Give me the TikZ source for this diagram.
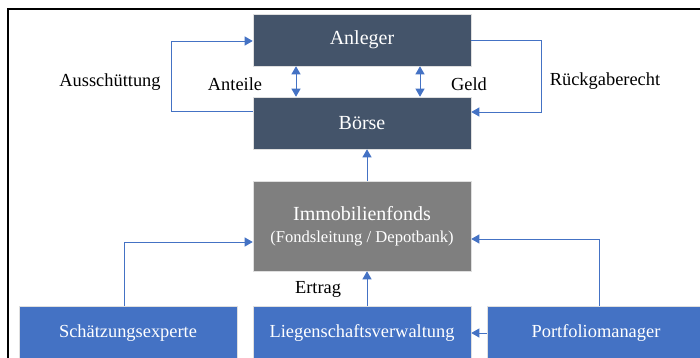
\documentclass[tikz,border=0pt]{standalone}
\usepackage{fontspec}
\setmainfont{Liberation Serif}
\usetikzlibrary{arrows.meta}
\definecolor{navy}{HTML}{44546A}
\definecolor{fgray}{HTML}{7F7F7F}
\definecolor{oblue}{HTML}{4472C4}
\tikzset{
  x=1pt, y=-1pt,
  box/.style={draw=gray!25, line width=0.6pt, minimum width=218pt, text=white, align=center, inner sep=0pt},
  topbox/.style={box, fill=navy, minimum height=52pt, font=\fontsize{20}{24}\selectfont},
  fundbox/.style={box, fill=fgray, minimum height=90pt, font=\fontsize{20}{22}\selectfont},
  lowbox/.style={box, fill=oblue, minimum height=54pt, font=\fontsize{18.4}{22}\selectfont},
  conn/.style={draw=oblue, line width=0.9pt, -{Triangle[width=9pt,length=8pt]}},
  dconn/.style={draw=oblue, line width=0.9pt, {Triangle[width=9pt,length=8pt]}-{Triangle[width=9pt,length=8pt]}},
  lbl/.style={font=\fontsize{18.4}{22}\selectfont, inner sep=0pt}
}
\begin{document}
\begin{tikzpicture}
\useasboundingbox (0,0) rectangle (700,358);
\clip (0,0) rectangle (700,358);
\fill[white] (0,0) rectangle (700,358);
\draw[line width=2pt] (8,9) rectangle (740,400);

\node[topbox] (anleger) at (362,40) {Anleger};
\node[topbox] (boerse) at (362,123) {Börse};
\node[fundbox] (immob) at (362,226) {Immobilienfonds\\{\fontsize{16.6}{20}\selectfont (Fondsleitung / Depotbank)}};
\node[lowbox] (schaetz) at (128,333) {Schätzungsexperte};
\node[lowbox] (liegen) at (362,333) {Liegenschaftsverwaltung};
\node[lowbox] (portfolio) at (596,333) {Portfoliomanager};

\draw[conn] ([yshift=12pt]boerse.west) -- ++(-81pt,0) |- ([yshift=-1pt]anleger.west);
\draw[conn] (anleger.east) -- ++(70pt,0) |- ([yshift=11pt]boerse.east);
\draw[dconn] ([xshift=-66pt]anleger.south) -- ([xshift=-66pt]boerse.north);
\draw[dconn] ([xshift=58pt]anleger.south) -- ([xshift=58pt]boerse.north);
\draw[conn] ([xshift=5pt]immob.north) -- ([xshift=5pt]boerse.south);
\draw[conn] ([xshift=5pt]liegen.north) -- ([xshift=5pt]immob.south);
\draw[conn] ([xshift=-4pt]schaetz.north) |- ([yshift=-16pt]immob.west);
\draw[conn] ([xshift=3pt]portfolio.north) |- ([yshift=-13pt]immob.east);
\draw[conn] (portfolio.west) -- (liegen.east);

\node[lbl] (l1) at (110,82) {Ausschüttung};
\node[lbl] (l2) at (235,84) {Anteile};
\node[lbl] (l3) at (469,84) {Geld};
\node[lbl] (l4) at (605,81) {Rückgaberecht};
\node[lbl] (l5) at (318,289) {Ertrag};
\end{tikzpicture}
\end{document}
